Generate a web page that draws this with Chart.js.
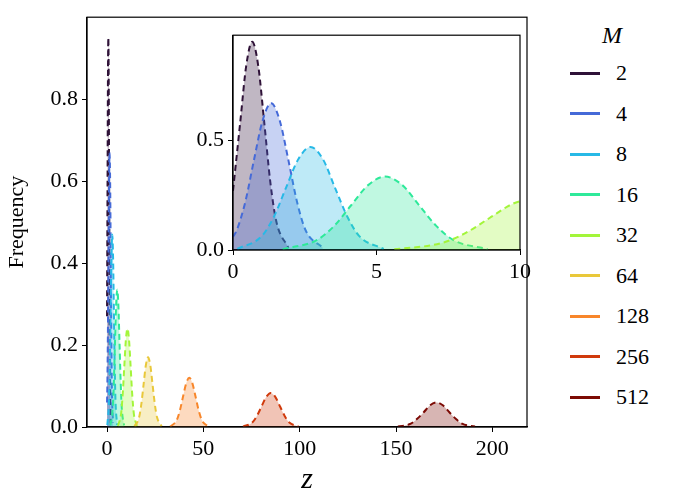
<!DOCTYPE html>
<html><head><meta charset="utf-8">
<script src="https://cdn.jsdelivr.net/npm/chart.js@4"></script>
<style>
body{margin:0;background:#fff;width:680px;height:502px;overflow:hidden;font-family:"Liberation Serif",serif}
#wrap{position:absolute;left:0;top:0;width:545px;height:502px}
#inwrap{position:absolute;left:185px;top:25px;width:340px;height:255px}
#legend{position:absolute;left:570px;top:22px;font-size:22px;color:#000}
#legend .t{font-style:italic;font-size:24px;margin-left:32px;margin-bottom:4px}
#legend .r{display:flex;align-items:center;height:40.5px}
#legend .s{width:30px;height:3px;margin-right:16px}
</style></head><body>
<div id="wrap"><canvas id="main"></canvas></div>
<div id="inwrap"><canvas id="inset"></canvas></div>
<div id="legend"></div>
<script>
const labels = ["2","4","8","16","32","64","128","256","512"];
const colors = ["#2f1238","#456ad8","#27b9e6","#2ee99a","#a3f53a","#e9c83a","#f8862a","#d03a0c","#7c0a04"];
const xs = [
  [0,0.25,0.46,0.67,0.88,1.09,1.30,1.51,1.93],
  [0,0.13,0.43,0.73,1.03,1.33,1.63,1.93,2.23,2.53,3.13],
  [0.15,1.0,1.43,1.85,2.28,2.7,3.13,3.55,3.98,4.4,5.25],
  [1.73,2.92,3.52,4.11,4.71,5.3,5.9,6.49,7.09,7.68,8.87],
  [5.62,7.28,8.11,8.94,9.77,10.6,11.43,12.26,13.09,13.92,15.58],
  [14.25,16.6,17.78,18.95,20.13,21.3,22.48,23.65,24.83,26.0,28.35],
  [32.8,36.1,37.75,39.4,41.05,42.7,44.35,46.0,47.65,49.3,52.6],
  [70.6,75.4,77.8,80.2,82.6,85,87.4,89.8,92.2,94.6,99.4],
  [151,157.7,161,164.4,167.7,171,174.3,177.7,181,184.3,191]
];
const ys = [
  [0.27,0.58,0.84,0.95,0.84,0.58,0.31,0.13,0.01],
  [0.06,0.09,0.22,0.41,0.59,0.67,0.59,0.41,0.22,0.09,0.01],
  [0.005,0.063,0.153,0.285,0.415,0.47,0.415,0.285,0.153,0.063,0.005],
  [0.004,0.045,0.109,0.203,0.296,0.335,0.296,0.203,0.109,0.045,0.004],
  [0.003,0.032,0.078,0.146,0.212,0.24,0.212,0.146,0.078,0.032,0.003],
  [0.002,0.023,0.055,0.103,0.15,0.17,0.15,0.103,0.055,0.023,0.002],
  [0.001,0.016,0.039,0.073,0.106,0.12,0.106,0.073,0.039,0.016,0.001],
  [0.001,0.011,0.027,0.05,0.073,0.083,0.073,0.05,0.027,0.011,0.001],
  [0.001,0.008,0.02,0.036,0.053,0.06,0.053,0.036,0.02,0.008,0.001]
];
const mainXTicks = [0,50,100,150,200];
const mainYTicks = [0,0.2,0.4,0.6,0.8];
const insetXTicks = [0,5,10];
const insetYTicks = [0,0.5];

function hexA(h,a){const n=parseInt(h.slice(1),16);return `rgba(${n>>16},${(n>>8)&255},${n&255},${a})`;}
function datasets(){
  return labels.map((l,i)=>({
    label:l,
    data:xs[i].map((x,j)=>({x:x,y:ys[i][j]})),
    borderColor:colors[i],backgroundColor:hexA(colors[i],0.3),
    borderWidth:2,borderDash:[6,4],pointRadius:0,fill:'origin',
    tension:0.4,cubicInterpolationMode:'monotone'
  })).reverse();
}
const font={family:"Liberation Serif",size:22};
function axis(min,max,ticks,w,h,dec){
  return {type:'linear',min:min,max:max,
    afterBuildTicks:a=>{a.ticks=ticks.map(v=>({value:v}));},
    ticks:{font:font,color:'#000',padding:4,autoSkip:false,maxRotation:0,
      callback:v=>dec?v.toFixed(dec):String(v)},
    grid:{drawOnChartArea:false,tickLength:5,color:'#000'},
    border:{color:'#000',width:1.2},
    afterFit:s=>{if(w)s.width=w;if(h)s.height=h;}};
}
Chart.defaults.animation=false;
Chart.defaults.maintainAspectRatio=false;
Chart.defaults.responsive=true;

const boxPlugin={id:'box',afterDraw:c=>{const a=c.chartArea,x=c.ctx;x.save();x.strokeStyle='#000';x.lineWidth=1.2;x.strokeRect(a.left,a.top,a.right-a.left,a.bottom-a.top);x.restore();}};
const bgPlugin={id:'bg',beforeDraw:c=>{const a=c.chartArea;c.ctx.save();c.ctx.fillStyle='#fff';c.ctx.fillRect(a.left,a.top,a.right-a.left,a.bottom-a.top);c.ctx.restore();}};

const mx=axis(-10.4,218,mainXTicks,0,75,0);
mx.title={display:true,text:'z',font:{family:"Liberation Serif",size:30,style:'italic'},color:'#000',padding:{top:-2}};
const my=axis(0,1.0,mainYTicks,87,0,1);
my.title={display:true,text:'Frequency',font:{family:"Liberation Serif",size:22},color:'#000'};
new Chart(document.getElementById('main'),{type:'line',data:{datasets:datasets()},plugins:[boxPlugin],
  options:{layout:{padding:{top:10,right:18}},plugins:{legend:{display:false},tooltip:{enabled:false}},
  scales:{x:mx,y:my}}});

new Chart(document.getElementById('inset'),{type:'line',data:{datasets:datasets()},plugins:[bgPlugin,boxPlugin],
  options:{layout:{padding:{top:10,right:5}},plugins:{legend:{display:false},tooltip:{enabled:false}},
  scales:{x:axis(0,10,insetXTicks,0,30,0),y:axis(0,0.98,insetYTicks,48,0,1)}}});

const lg=document.getElementById('legend');
lg.innerHTML='<div class="t">M</div>'+labels.map((l,i)=>`<div class="r"><div class="s" style="background:${colors[i]}"></div>${l}</div>`).join('');
</script>
<style>#inwrap{top:18px;width:350px;height:262px}</style>
</body></html>
